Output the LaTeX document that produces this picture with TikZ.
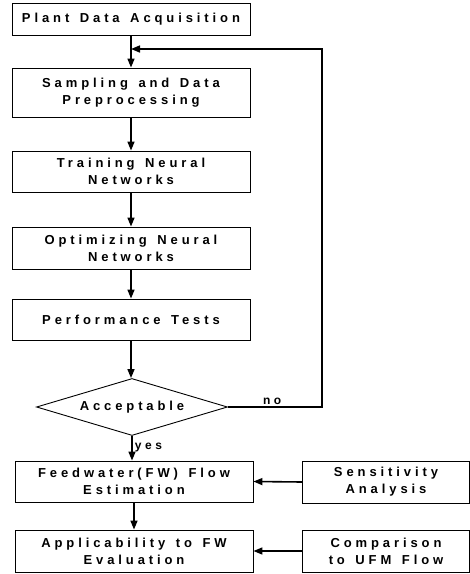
\documentclass[tikz,border=0pt]{standalone}
\usepackage{fontspec}
\usepackage{xcolor}
\usepackage{tikz}
\usetikzlibrary{shapes.geometric,arrows.meta}
\newfontfamily\flowfont{Liberation Sans}[LetterSpace=30,WordSpace=1.4]
\tikzset{
  stepbox/.style={draw, line width=0.9pt, text centered, align=center, font=\flowfont\bfseries\fontsize{13}{17}\selectfont},
  decide/.style={draw, diamond, aspect=3.4, line width=0.9pt, inner sep=0pt, text centered, font=\flowfont\bfseries\fontsize{13}{17}\selectfont},
  flow/.style={line width=1.6pt, -{Triangle[length=9pt,width=7pt]}},
  tag/.style={font=\flowfont\bfseries\fontsize{12}{14}\selectfont}
}

\begin{document}
\begin{tikzpicture}[x=1pt,y=-1pt]%
\useasboundingbox (0,0) rectangle (470,574);%
% main column
\node[stepbox, minimum width=238pt, minimum height=32pt] (acq) at (131, 19) {Plant Data Acquisition};%
\node[stepbox, minimum width=238pt, minimum height=49pt] (samp) at (131, 92.5) {Sampling and Data\\Preprocessing};%
\node[stepbox, minimum width=238pt, minimum height=41pt] (train) at (131, 171.5) {Training Neural\\Networks};%
\node[stepbox, minimum width=238pt, minimum height=42pt] (optim) at (131, 248) {Optimizing Neural\\Networks};%
\node[stepbox, minimum width=238pt, minimum height=41pt] (perf) at (131, 319.5) {Performance Tests};%
\node[decide, minimum width=191pt, minimum height=57pt] (accept) at (132, 407) {Acceptable};%
\node[stepbox, minimum width=238pt, minimum height=41pt] (feed) at (134, 481.5) {Feedwater(FW) Flow\\Estimation};%
\node[stepbox, minimum width=238pt, minimum height=42pt] (appl) at (134, 551) {Applicability to FW\\Evaluation};%
% side boxes
\node[stepbox, minimum width=167pt, minimum height=42pt] (sens) at (386, 482) {Sensitivity\\Analysis};%
\node[stepbox, minimum width=167pt, minimum height=42pt] (comp) at (386, 551) {Comparison\\to UFM Flow};%
% connectors
\coordinate (join) at (131, 49);%
\coordinate (back) at (322, 49);%
\draw[flow] (acq.south) -- (samp.north);%
\draw[flow] (samp.south) -- (train.north);%
\draw[flow] (train.south) -- (optim.north);%
\draw[flow] (optim.south) -- (perf.north);%
\draw[flow] (perf.south) -- (perf.south |- accept.north);%
\draw[flow] (accept.south) -- node[tag, right, pos=0.45, inner sep=2pt] (yes) {yes} (accept.south |- feed.north);%
\draw[flow] (accept.east) -- node[tag, above, pos=0.47, inner sep=2pt] (no) {no} (back |- accept.east) -- (back) -- (join);%
\draw[flow] (sens.west) -- (feed.east);%
\draw[flow] (comp.west) -- (appl.east);%
\draw[flow] (feed.south) -- (appl.north);%
\end{tikzpicture}
\end{document}
